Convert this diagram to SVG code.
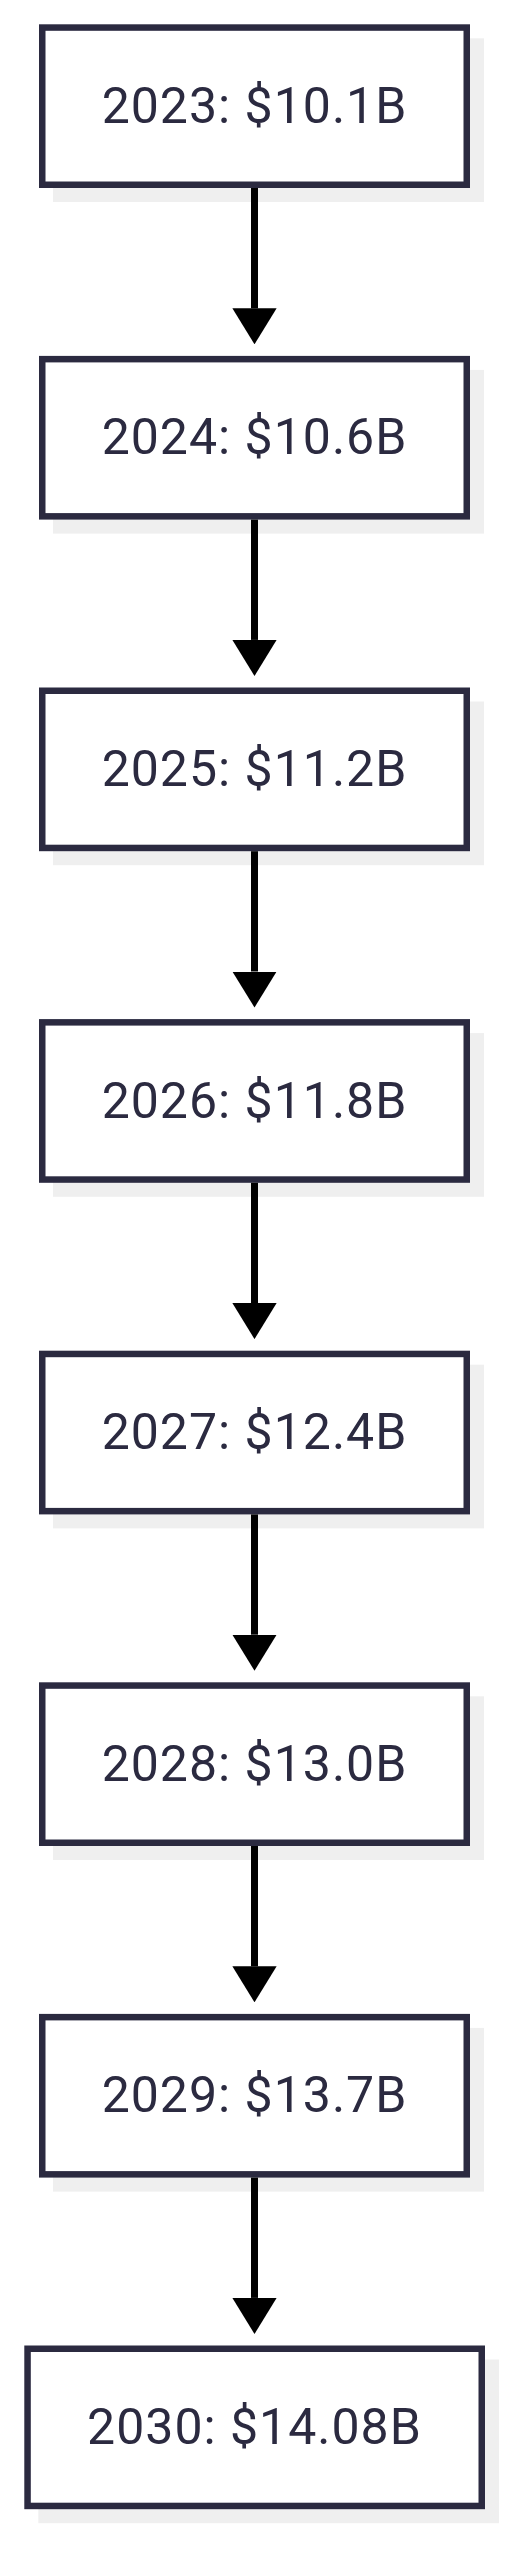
<svg xmlns="http://www.w3.org/2000/svg" width="515" height="2560" viewBox="0 0 515 2560">
<style>
.shadow{fill:#efefef}
.box{fill:#ffffff;stroke:#2b2a40;stroke-width:6.5}
.label{font-family:Roboto,"Liberation Sans",sans-serif;font-size:50px;fill:#2b2a40;text-anchor:middle;letter-spacing:1px}
.edge{stroke:#000000;stroke-width:7;fill:none}
</style>
<defs>
<marker id="arrow" markerUnits="userSpaceOnUse" markerWidth="36" markerHeight="44.3" refX="0" refY="22.15" orient="auto" viewBox="0 0 36 44.3">
<path d="M0,0 L36,22.15 L0,44.3 Z" fill="#000000"/>
</marker>
</defs>
<rect width="515" height="2560" fill="#ffffff"/>
<g id="n2023">
<rect class="shadow" x="53" y="38.3" width="431" height="163.7"/>
<rect class="box" x="42.25" y="27.55" width="424.5" height="157.2"/>
<text class="label" x="254.5" y="122.7">2023: $10.1B</text>
</g>
<g id="n2024">
<rect class="shadow" x="53" y="369.9" width="431" height="163.7"/>
<rect class="box" x="42.25" y="359.15" width="424.5" height="157.2"/>
<text class="label" x="254.5" y="454.3">2024: $10.6B</text>
</g>
<g id="n2025">
<rect class="shadow" x="53" y="701.5" width="431" height="163.7"/>
<rect class="box" x="42.25" y="690.75" width="424.5" height="157.2"/>
<text class="label" x="254.5" y="785.9">2025: $11.2B</text>
</g>
<g id="n2026">
<rect class="shadow" x="53" y="1033.1" width="431" height="163.7"/>
<rect class="box" x="42.25" y="1022.35" width="424.5" height="157.2"/>
<text class="label" x="254.5" y="1117.5">2026: $11.8B</text>
</g>
<g id="n2027">
<rect class="shadow" x="53" y="1364.7" width="431" height="163.7"/>
<rect class="box" x="42.25" y="1353.95" width="424.5" height="157.2"/>
<text class="label" x="254.5" y="1449.1">2027: $12.4B</text>
</g>
<g id="n2028">
<rect class="shadow" x="53" y="1696.3" width="431" height="163.7"/>
<rect class="box" x="42.25" y="1685.55" width="424.5" height="157.2"/>
<text class="label" x="254.5" y="1780.7">2028: $13.0B</text>
</g>
<g id="n2029">
<rect class="shadow" x="53" y="2027.9" width="431" height="163.7"/>
<rect class="box" x="42.25" y="2017.15" width="424.5" height="157.2"/>
<text class="label" x="254.5" y="2112.3">2029: $13.7B</text>
</g>
<g id="n2030">
<rect class="shadow" x="38.3" y="2359.5" width="460.7" height="163.7"/>
<rect class="box" x="27.55" y="2348.75" width="454.2" height="157.2"/>
<text class="label" x="254.5" y="2443.9">2030: $14.08B</text>
</g>
<g id="connectors">
<line class="edge" x1="254.5" y1="188" x2="254.5" y2="308.3" marker-end="url(#arrow)"/>
<line class="edge" x1="254.5" y1="519.6" x2="254.5" y2="639.9" marker-end="url(#arrow)"/>
<line class="edge" x1="254.5" y1="851.2" x2="254.5" y2="971.5" marker-end="url(#arrow)"/>
<line class="edge" x1="254.5" y1="1182.8" x2="254.5" y2="1303.1" marker-end="url(#arrow)"/>
<line class="edge" x1="254.5" y1="1514.4" x2="254.5" y2="1634.7" marker-end="url(#arrow)"/>
<line class="edge" x1="254.5" y1="1846" x2="254.5" y2="1966.3" marker-end="url(#arrow)"/>
<line class="edge" x1="254.5" y1="2177.6" x2="254.5" y2="2297.9" marker-end="url(#arrow)"/>
</g>
</svg>
